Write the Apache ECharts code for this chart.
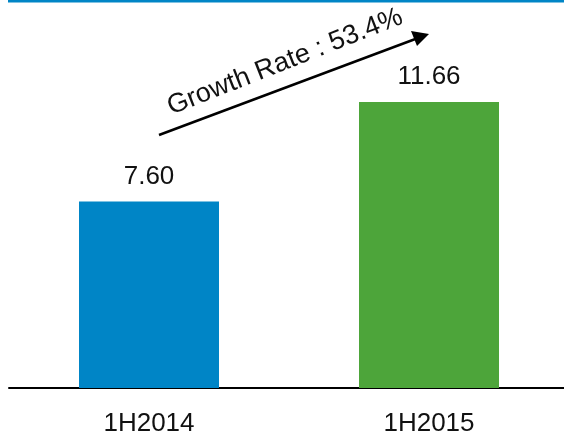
<!DOCTYPE html>
<html><head><meta charset="utf-8">
<script src="https://cdn.jsdelivr.net/npm/echarts@6/dist/echarts.min.js"></script>
<style>html,body{margin:0;padding:0;background:#fff}#c{width:564px;height:435px}</style>
</head><body><div id="c"></div>
<script>
const categories = ['1H2014', '1H2015'];
const values = [7.60, 11.66];
const barColors = ['#0085c6', '#4da53a'];
const annotation = 'Growth Rate : 53.4%';

const chart = echarts.init(document.getElementById('c'), null, {renderer: 'canvas'});
const FONT = '"Liberation Sans", Arial, sans-serif';
chart.setOption({
  animation: false,
  grid: {left: 9, width: 560, top: 20, bottom: 47, containLabel: false, outerBoundsMode: 'none'},
  xAxis: {
    type: 'category', data: categories,
    axisLine: {show: true, lineStyle: {color: '#000', width: 2}},
    axisTick: {show: false},
    axisLabel: {fontSize: 26, color: '#111', fontFamily: FONT, margin: 23}
  },
  yAxis: {type: 'value', min: 0, max: 15, show: false, splitLine: {show: false}},
  series: [{
    type: 'bar', barWidth: 140,
    data: values.map((v, i) => ({value: v, itemStyle: {color: barColors[i]}})),
    label: {show: true, position: 'top', distance: 12, fontSize: 26, color: '#111', fontFamily: FONT,
      formatter: p => p.value.toFixed(2)}
  }],
  graphic: [
    {type: 'line', shape: {x1: 8, y1: 1, x2: 564, y2: 1}, style: {stroke: '#0085c6', lineWidth: 3}},
    {type: 'line', shape: {x1: 159, y1: 135, x2: 418, y2: 38}, style: {stroke: '#000', lineWidth: 2.5}},
    {type: 'polygon', shape: {points: [[429, 34], [411, 31], [417, 46]]}, style: {fill: '#000'}},
    {type: 'text', x: 285, y: 62, rotation: 21.5 * Math.PI / 180,
      style: {text: annotation, fill: '#111', font: '27px ' + FONT, align: 'center', verticalAlign: 'middle'}}
  ]
});
</script></body></html>
